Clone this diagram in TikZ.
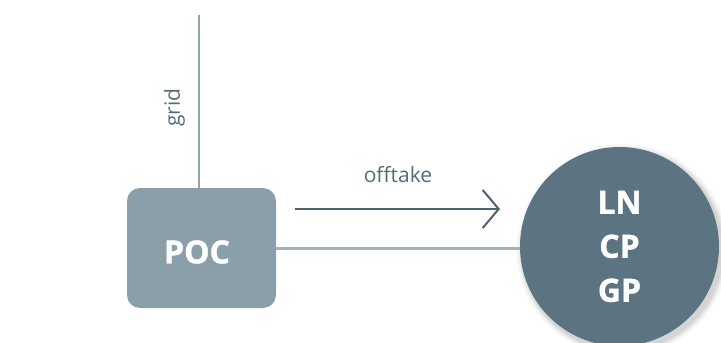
\documentclass[tikz,border=0pt]{standalone}
\usepackage{fontspec}
\setmainfont{Open Sans}
\newfontfamily\heavyfont{Open Sans}[FakeBold=1.2]
\usetikzlibrary{arrows.meta}
\definecolor{pocfill}{HTML}{8B9FAA}
\definecolor{circfill}{HTML}{5C7481}
\definecolor{connc}{HTML}{A0B3BB}
\definecolor{gridc}{HTML}{8FA3AE}
\definecolor{arrc}{HTML}{4C6270}
\definecolor{labc}{HTML}{566B77}
\tikzset{
  pocbox/.style={rectangle, rounded corners=13pt, fill=pocfill, minimum width=149pt, minimum height=120pt, inner sep=0pt},
  boldtxt/.style={text=white, inner sep=0pt, font=\heavyfont\bfseries\fontsize{32}{44}\selectfont},
  partycirc/.style={circle, fill=circfill, minimum size=199pt, inner sep=0pt, align=center, boldtxt},
  gridline/.style={draw=gridc, line width=2pt},
  connline/.style={draw=connc, line width=3pt},
  flowarrow/.style={draw=arrc, line width=2pt, -{Straight Barb[length=16pt,width=38pt]}},
  lbl/.style={text=labc, font=\fontsize{21}{25}\selectfont, inner sep=0pt}
}
\begin{document}
\begin{tikzpicture}[x=1pt,y=-1pt]
\useasboundingbox (0,0) rectangle (721,343);
% shadow of circle
\foreach \r/\o in {106/0.03,104/0.04,102.5/0.05,101/0.06} {
  \fill[black, opacity=\o] (622.5,250) circle (\r);
}
\node[pocbox] (poc) at (201.5,248) {};
\node[boldtxt] (poct) at (197,252) {POC};
\node[partycirc] (circ) at (619.5,246.5) {LN\\CP\\GP};
\coordinate (gtop) at (199,15);
\draw[gridline] (gtop) -- (gtop |- poc.north);
\node[lbl, rotate=90] (gridlbl) at (174.5,107.5) {grid};
\draw[connline] (poc.east) -- (poc.east -| circ.west);
\coordinate (a1) at (295,209);
\coordinate (a2) at (500,209);
\draw[flowarrow] (a1) -- (a2);
\node[lbl, anchor=base] (offlbl) at (398,182) {offtake};
\end{tikzpicture}
\end{document}
